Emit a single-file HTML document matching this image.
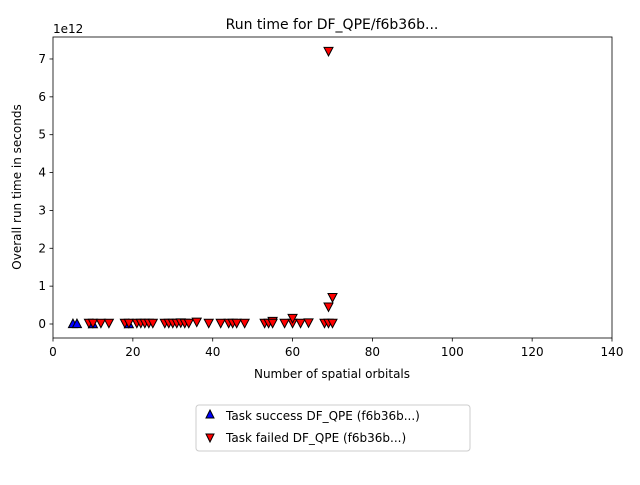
<!DOCTYPE html>
<html><head><meta charset="utf-8"><style>
body{margin:0;background:#fff;font-family:"Liberation Sans","DejaVu Sans",sans-serif;}
svg text{font-family:"DejaVu Sans","Liberation Sans",sans-serif;fill:#000;}
</style></head><body>
<svg id="chart" width="640" height="480" xmlns="http://www.w3.org/2000/svg">
<text x="332" y="29" font-size="14" text-anchor="middle">Run time for DF_QPE/f6b36b...</text>
<g id="axes"></g>
<g id="marks"></g>
<rect x="53" y="37" width="559" height="301" fill="none" stroke="#000" stroke-width="0.8"/>
<text x="332" y="378" font-size="12" text-anchor="middle">Number of spatial orbitals</text>
<text transform="translate(21,187) rotate(-90)" font-size="12" text-anchor="middle">Overall run time in seconds</text>
<text x="53" y="33" font-size="12">1e12</text>
<g>
<rect x="196" y="405" width="274" height="46" rx="3" fill="#fff" stroke="#ccc"/>
<polygon points="210,410 214,418 206,418" fill="#0000ff" stroke="#000"/>
<text x="226" y="420" font-size="12">Task success DF_QPE (f6b36b...)</text>
<polygon points="206,434 214,434 210,442" fill="#ff0000" stroke="#000"/>
<text x="226" y="442" font-size="12">Task failed DF_QPE (f6b36b...)</text>
</g>
</svg>
<script>
const xTicks=[0,20,40,60,80,100,120,140];
const yTicks=[0,1,2,3,4,5,6,7];
const successX=[5,6,10,19];
const successY=[0.01,0.01,0.005,0.005];
const failedX=[9,10,12,14,18,19,21,22,23,24,25,28,29,30,31,32,33,34,36,39,42,44,45,46,48,53,54,55,58,60,62,64,68,69,70,69,70,69,60,55];
const failedY=[0.02,0.02,0.02,0.02,0.02,0.02,0.02,0.02,0.02,0.02,0.02,0.02,0.02,0.02,0.02,0.03,0.02,0.02,0.05,0.02,0.02,0.02,0.02,0.02,0.02,0.02,0.02,0.07,0.02,0.02,0.02,0.03,0.02,0.02,0.02,0.45,0.7,7.2,0.15,0.02];
const X=v=>53+v*(559/140);
const Y=v=>324-v*37.86;
const ns="http://www.w3.org/2000/svg";
const ax=document.getElementById('axes'),mk=document.getElementById('marks');
function el(t,a,p){const e=document.createElementNS(ns,t);for(const k in a)e.setAttribute(k,a[k]);p.appendChild(e);return e;}
xTicks.forEach(t=>{
 const l=el('line',{x1:X(t),x2:X(t),y1:338,y2:341.5,stroke:'#000','stroke-width':0.8},ax);
 
 
 const s=el('text',{x:X(t),y:356,'font-size':12,'text-anchor':'middle'},ax);s.textContent=t;
 
 
});
yTicks.forEach(t=>{
 const l=el('line',{x1:49.5,x2:53,y1:Y(t),y2:Y(t),stroke:'#000','stroke-width':0.8},ax);
 
 
 const s=el('text',{x:46,y:Y(t)+4,'font-size':12,'text-anchor':'end'},ax);s.textContent=t;
 
 
});
successX.forEach((v,i)=>{
 const x=X(v),y=Y(successY[i]);
 const p=el('polygon',{points:`${x},${y-4.5} ${x+4.5},${y+4} ${x-4.5},${y+4}`,fill:'#0000ff',stroke:'#000','stroke-width':1},mk);
 
 
});
failedX.forEach((v,i)=>{
 const x=X(v),y=Y(failedY[i]);
 const p=el('polygon',{points:`${x-4.5},${y-4} ${x+4.5},${y-4} ${x},${y+4.5}`,fill:'#ff0000',stroke:'#000','stroke-width':1},mk);
 
 
});
</script>
</body></html>
